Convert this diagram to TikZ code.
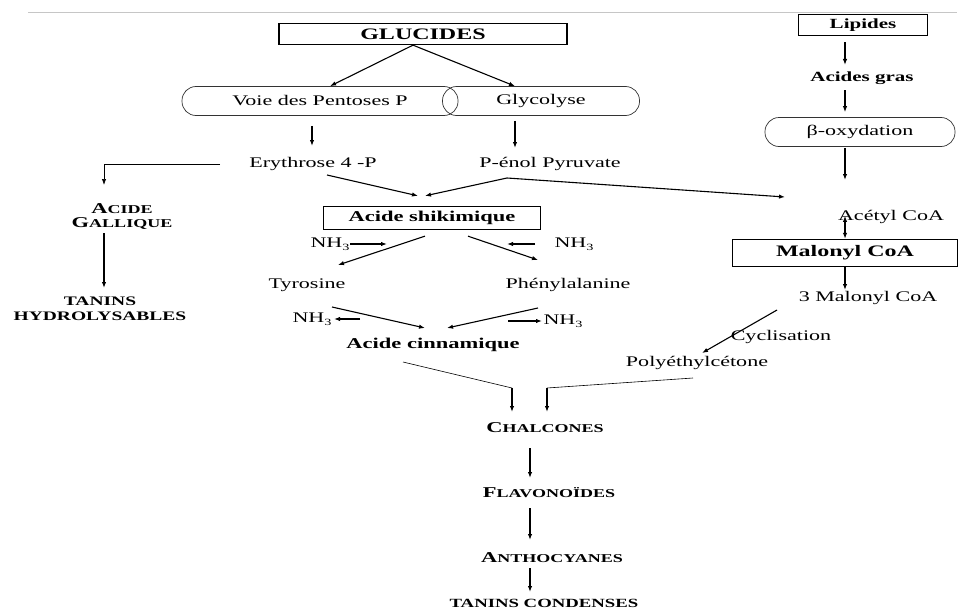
\documentclass[tikz,border=0pt]{standalone}
\usepackage{fontspec}
\setmainfont[FakeStretch=1.5]{Liberation Serif}
\usetikzlibrary{arrows.meta,calc}
\newcommand{\fsz}[1]{\fontsize{#1}{#1}\selectfont}
\newcommand{\pcap}[2]{#1{\fsz{12}#2}}
\newcommand{\nhtrois}{NH\raisebox{-2.5pt}{\fsz{9.5}3}}

\begin{document}
\begin{tikzpicture}[x=1pt,y=-1pt,
    lbl/.style={font=\fsz{14.7},inner sep=0pt},
    blbl/.style={font=\bfseries\fontsize{15}{14}\selectfont,inner sep=0pt,align=center},
    box/.style={draw=black,line width=1.3pt,font=\bfseries\fsz{15},inner sep=0pt},
    pill/.style={draw=black!80,line width=0.7pt,rounded corners=14pt,font=\fsz{14.7},
      inner sep=0pt,minimum height=29pt},
    arrow/.style={-{Latex[length=6pt,width=4.4pt]},line width=1.1pt},
    link/.style={line width=0.6pt}]
  \useasboundingbox (0,0) rectangle (960,610);
  \draw[gray!45,line width=0.8pt] (28,12) -- (957,12);

  % glucides side
  \node[box,minimum width=288pt,minimum height=21pt,font=\bfseries\fsz{16}] (glu) at (423,34) {GLUCIDES};
  \node[pill,minimum width=276pt] (voie) at (320,101) {Voie des Pentoses P};
  \node[pill,minimum width=197pt] (gly) at (541,101) {Glycolyse};
  \node[lbl] (ery) at (313,164) {Erythrose 4 -P};
  \node[lbl] (pep) at (550,164) {P-énol Pyruvate};
  \node[blbl] (gal) at (122,217) {\pcap{A}{CIDE}\\\pcap{G}{ALLIQUE}};
  \node[blbl,font=\bfseries\fontsize{13}{15}\selectfont] (tanh) at (100,309) {TANINS\\HYDROLYSABLES};
  \node[box,minimum width=217pt,minimum height=23pt] (shik) at (432,218) {Acide shikimique};
  \node[lbl] (nha) at (330,244) {\nhtrois};
  \node[lbl] (nhb) at (574,244) {\nhtrois};
  \node[lbl] (tyr) at (307,285) {Tyrosine};
  \node[lbl] (phe) at (568,285) {Phénylalanine};
  \node[lbl] (nhc) at (312,319) {\nhtrois};
  \node[lbl] (nhd) at (563,321) {\nhtrois};
  \node[blbl] (cin) at (433,345) {Acide cinnamique};

  % lipides side
  \node[box,minimum width=129pt,minimum height=21pt,font=\bfseries\fsz{14}] (lip) at (863,25) {Lipides};
  \node[blbl,font=\bfseries\fsz{14}] (agras) at (862,78) {Acides gras};
  \node[pill,minimum width=190pt] (beta) at (860,132) {β-oxydation};
  \node[lbl] (acet) at (891,217) {Acétyl CoA};
  \node[box,minimum width=225pt,minimum height=27pt,font=\bfseries\fsz{16}] (mal) at (845,253) {Malonyl CoA};
  \node[lbl] (mal3) at (868,298) {3 Malonyl CoA};
  \node[lbl] (cyc) at (781,337) {Cyclisation};
  \node[lbl] (poly) at (697,363) {Polyéthylcétone};

  % flavonoid chain
  \node[blbl] (chal) at (545,428) {\pcap{C}{HALCONES}};
  \node[blbl] (flav) at (549,493) {\pcap{F}{LAVONOÏDES}};
  \node[blbl] (anth) at (552,558) {\pcap{A}{NTHOCYANES}};
  \node[blbl,font=\bfseries\fsz{12.5}] (tcond) at (544,603) {TANINS CONDENSES};
  \coordinate (fork) at ($(pep)+(-43,14)$);

  \draw[arrow] ($(glu.south)+(-10,0)$) -- ($(voie.north)+(10,0)$);
  \draw[arrow] ($(glu.south)+(-10,0)$) -- ($(gly.north)+(-26,0)$);
  \draw[arrow] ($(voie.south)+(-8,10)$) -- ($(ery)+(-1,-18)$);
  \draw[arrow] ($(gly.south)+(-26,5)$) -- ($(pep)+(-35,-16)$);
  \draw[arrow,line width=0.7pt] ($(ery)+(-93,0)$) -| ($(gal)+(-18,-32)$);
  \draw[arrow] ($(gal)+(-18,16)$) -- ($(tanh)+(4,-21)$);
  \draw[arrow] ($(ery)+(14,11)$) -- ($(shik.north)+(-14,-10)$);
  \draw[arrow] (fork) -- ($(shik.north)+(-7,-10)$);
  \draw[arrow] (fork) -- ($(acet)+(-106,-20)$);
  \draw[arrow] ($(shik.south)+(-7,6)$) -- ($(tyr)+(31,-20)$);
  \draw[arrow] ($(shik.south)+(36,6)$) -- ($(phe)+(-30,-25)$);
  \draw[arrow] ($(nha)+(20,0)$) -- ($(nha)+(57,0)$);
  \draw[arrow] ($(nhb)+(-39,0)$) -- ($(nhb)+(-67,0)$);
  \draw[arrow] ($(tyr)+(25,22)$) -- ($(cin)+(-8,-17)$);
  \draw[arrow] ($(phe)+(-30,23)$) -- ($(cin)+(14,-17)$);
  \draw[arrow] ($(nhc)+(48,0)$) -- ($(nhc)+(22,0)$);
  \draw[arrow] ($(nhd)+(-55,0)$) -- ($(nhd)+(-21,0)$);
  \draw[link] ($(cin)+(-30,17)$) -- ($(chal)+(-33,-40)$);
  \draw[arrow] ($(chal)+(-33,-40)$) -- ($(chal)+(-33,-16)$);
  \draw[link] ($(poly)+(-4,15)$) -- ($(chal)+(2,-40)$);
  \draw[arrow] ($(chal)+(2,-40)$) -- ($(chal)+(2,-16)$);
  \draw[arrow] ($(chal)+(-15,20)$) -- ($(flav)+(-19,-15)$);
  \draw[arrow] ($(flav)+(-19,15)$) -- ($(anth)+(-22,-18)$);
  \draw[arrow] ($(anth)+(-22,10)$) -- ($(tcond)+(-14,-11)$);

  \draw[arrow] ($(lip.south)+(-18,6)$) -- ($(agras)+(-17,-13)$);
  \draw[arrow] ($(agras)+(-17,12)$) -- ($(beta.north)+(-15,-5)$);
  \draw[arrow] ($(beta.south)+(-15,1)$) -- ($(acet)+(-46,-37)$);
  \draw[{Latex[length=6pt,width=4.4pt]}-{Latex[length=6pt,width=4.4pt]},line width=1.1pt]
    ($(mal.north)+(0,-23)$) -- (mal.north);
  \draw[arrow] (mal.south) -- ($(mal3)+(-23,-8)$);
  \draw[arrow] ($(mal3)+(-91,12)$) -- ($(poly)+(5,-10)$);
\end{tikzpicture}
\end{document}
